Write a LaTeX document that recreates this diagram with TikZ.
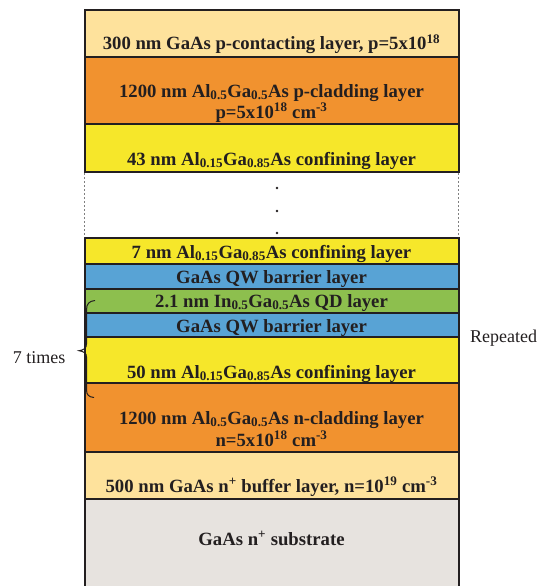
\documentclass[tikz,border=0pt]{standalone}
\usepackage{fontspec}
\setmainfont{Liberation Serif}
\definecolor{edge}{HTML}{231F20}
\definecolor{contact}{HTML}{FEE29C}
\definecolor{clad}{HTML}{F1922F}
\definecolor{conf}{HTML}{F6E72A}
\definecolor{barrier}{HTML}{58A3D5}
\definecolor{qd}{HTML}{8DBF4E}
\definecolor{subst}{HTML}{E7E3DF}
\begin{document}
\begin{tikzpicture}[x=1pt,y=-1pt,
  lay/.style={draw=edge,line width=2pt},
  txt/.style={anchor=base,inner sep=0pt,font=\fontsize{18.7}{21}\selectfont\bfseries,text=edge},
  side/.style={anchor=base,inner sep=0pt,font=\fontsize{18}{21}\selectfont,text=edge},
  gap/.style={draw=gray,line width=0.8pt,dash pattern=on 2pt off 2pt}]
\useasboundingbox (0,0) rectangle (543,586);
% layers
\filldraw[lay,fill=subst] (84.5,499) rectangle (458.5,590);
\filldraw[lay,fill=contact] (84.5,452) rectangle (458.5,499);
\filldraw[lay,fill=clad] (84.5,383) rectangle (458.5,452);
\filldraw[lay,fill=conf] (84.5,337) rectangle (458.5,383);
\filldraw[lay,fill=barrier] (84.5,313) rectangle (458.5,337);
\filldraw[lay,fill=qd] (84.5,289) rectangle (458.5,313);
\filldraw[lay,fill=barrier] (84.5,264) rectangle (458.5,289);
\filldraw[lay,fill=conf] (84.5,238) rectangle (458.5,264);
\filldraw[lay,fill=conf] (84.5,124) rectangle (458.5,172);
\filldraw[lay,fill=clad] (84.5,57) rectangle (458.5,124);
\filldraw[lay,fill=contact] (84.5,10) rectangle (458.5,57);
% gap
\draw[gap] (84.5,173) -- (84.5,237);
\draw[gap] (458.5,173) -- (458.5,237);
\fill[edge] (277,188) circle (1.4) (277,211) circle (1.4) (277,233) circle (1.4);
% texts
\node[txt] (t1) at (271.5,50) {300 nm GaAs p-contacting layer, p=5x10\textsuperscript{18}};
\node[txt] (t2a) at (271.5,97) {1200 nm Al\textsubscript{0.5}Ga\textsubscript{0.5}As p-cladding layer};
\node[txt] (t2b) at (271.5,118) {p=5x10\textsuperscript{18} cm\textsuperscript{-3}};
\node[txt] (t3) at (271.5,165) {43 nm Al\textsubscript{0.15}Ga\textsubscript{0.85}As confining layer};
\node[txt] (t4) at (271.5,258) {7 nm Al\textsubscript{0.15}Ga\textsubscript{0.85}As confining layer};
\node[txt] (t5) at (271.5,283) {GaAs QW barrier layer};
\node[txt] (t6) at (271.5,307) {2.1 nm In\textsubscript{0.5}Ga\textsubscript{0.5}As QD layer};
\node[txt] (t7) at (271.5,332) {GaAs QW barrier layer};
\node[txt] (t8) at (271.5,378) {50 nm Al\textsubscript{0.15}Ga\textsubscript{0.85}As confining layer};
\node[txt] (t9a) at (271.5,424) {1200 nm Al\textsubscript{0.5}Ga\textsubscript{0.5}As n-cladding layer};
\node[txt] (t9b) at (271.5,446) {n=5x10\textsuperscript{18} cm\textsuperscript{-3}};
\node[txt] (t10) at (271.5,492) {500 nm GaAs n\textsuperscript{+} buffer layer, n=10\textsuperscript{19} cm\textsuperscript{-3}};
\node[txt] (t11) at (271.5,545) {GaAs n\textsuperscript{+} substrate};
% brace and side labels
\draw[edge,line width=1pt] (95,300.5) .. controls (89,301) and (86.5,304) .. (86.5,310) -- (86.5,344)
  .. controls (86.5,348) and (84,350) .. (79,350.7) .. controls (84,351.5) and (86.5,353) .. (86.5,357)
  -- (86.5,390) .. controls (86.5,395) and (89,397) .. (94,397.5);
\node[side] (times) at (39,363) {7 times};
\node[side] (rep) at (503.5,342) {Repeated};
\end{tikzpicture}
\end{document}
